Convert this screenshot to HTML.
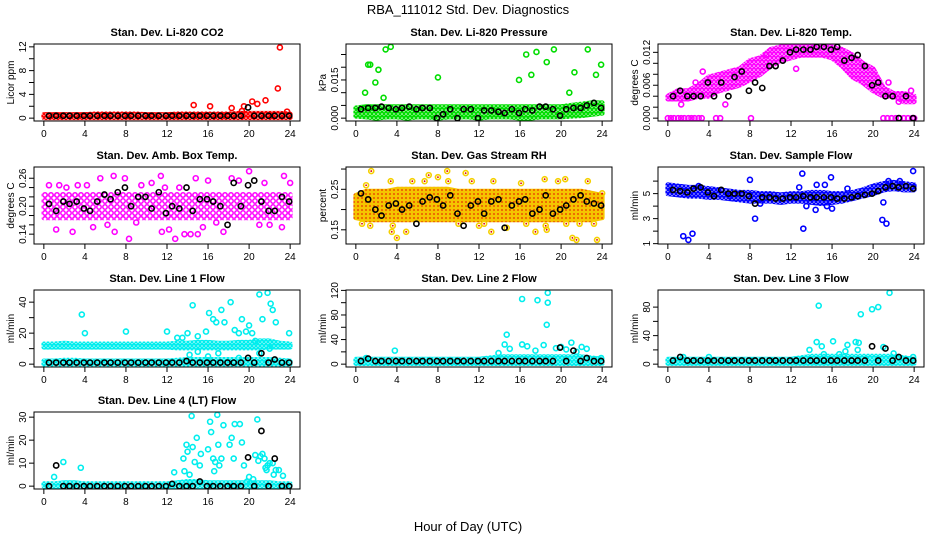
<!DOCTYPE html>
<html><head><meta charset="utf-8"><style>
html,body{margin:0;padding:0;background:#fff;}
svg{display:block;font-family:"Liberation Sans",sans-serif;}
</style></head><body>
<svg id="chart" width="936" height="540" viewBox="0 0 936 540" xmlns="http://www.w3.org/2000/svg">
<rect x="0" y="0" width="936" height="540" fill="#fff"/>
<defs id="defs"></defs>
<text x="468" y="14" font-size="13" text-anchor="middle">RBA_111012  Std. Dev. Diagnostics</text>
<text x="468" y="531" font-size="13" text-anchor="middle">Hour of Day (UTC)</text>
<g id="plots"></g>
</svg>
<script>
// shared time categories
const bandHours = [0,1,2,3,4,5,6,7,8,9,10,11,12,13,14,15,16,17,18,19,20,21,22,23,24];
const blackHours = [0.5,1.2,1.9,2.5,3.2,3.9,4.5,5.2,5.9,6.5,7.2,7.9,8.5,9.2,9.9,10.5,11.2,11.9,12.5,13.2,13.9,14.5,15.2,15.9,16.5,17.2,17.9,18.5,19.2,19.9,20.5,21.2,21.9,22.5,23.2,23.9];
const xTicks = [0,4,8,12,16,20,24];

// P1 CO2
const co2BandLo = [0.1,0.1,0.1,0.1,0.1,0.1,0.1,0.1,0.1,0.1,0.1,0.1,0.1,0.1,0.1,0.1,0.1,0.1,0.1,0.1,0.1,0.1,0.1,0.1,0.1];
const co2BandHi = [0.6,0.6,0.6,0.6,0.6,0.7,0.7,0.7,0.7,0.7,0.6,0.6,0.6,0.7,0.7,0.7,0.7,0.7,0.7,0.8,0.8,0.8,0.8,0.8,0.7];
const co2X = [14.6,16.2,18.3,19.5,19.3,20.3,20.8,21.6,22.8,23.0,23.7];
const co2Y = [2.2,2.0,1.7,2.0,1.2,2.8,2.4,3.0,5.0,11.9,1.1];
const co2Black = [0.4,0.4,0.4,0.4,0.4,0.4,0.4,0.4,0.4,0.4,0.4,0.4,0.4,0.4,0.4,0.4,0.4,0.4,0.4,0.4,0.4,0.4,0.4,0.4,0.4,0.4,0.4,0.4,0.4,1.8,0.4,0.4,0.4,0.4,0.4,0.4];
// P2 pressure
const presBandLo = [0.0008,0.0005,0.0,0.0005,0.0005,0.0,0.0005,0.0005,0.0,0.0005,0.0005,0.0005,0.0,0.0005,0.0005,0.0005,0.0,0.0,0.0005,0.0005,0.0005,0.0008,0.001,0.0015,0.002];
const presBandHi = [0.004,0.0045,0.0045,0.0045,0.0045,0.0045,0.0045,0.0045,0.0045,0.0045,0.0045,0.0045,0.0045,0.0045,0.0045,0.0045,0.0045,0.0045,0.0045,0.0045,0.0045,0.005,0.0055,0.006,0.006];
const presX = [0.8,0.9,1.2,1.4,1.9,2.2,2.7,2.9,3.4,8.0,15.9,16.6,17.1,17.6,18.6,19.3,20.8,21.3,22.6,23.4,23.9];
const presY = [0.004,0.010,0.021,0.021,0.014,0.019,0.008,0.027,0.028,0.016,0.015,0.025,0.017,0.026,0.022,0.027,0.010,0.018,0.027,0.017,0.021];
const presBlack = [0.0035,0.004,0.004,0.0045,0.004,0.0035,0.004,0.0045,0.0035,0.004,0.004,0.0,0.0015,0.0035,0.0,0.0035,0.0035,0.0,0.003,0.003,0.0025,0.002,0.0035,0.002,0.0035,0.003,0.0045,0.0045,0.0035,0.001,0.0035,0.004,0.004,0.005,0.006,0.004];
// P3 temp
const tempBandLo = [0.0035,0.0035,0.0035,0.004,0.004,0.005,0.0055,0.006,0.007,0.008,0.0095,0.0105,0.011,0.0115,0.0115,0.0115,0.011,0.0095,0.0075,0.0065,0.005,0.004,0.004,0.003,0.003];
const tempBandHi = [0.004,0.005,0.005,0.006,0.0075,0.008,0.0085,0.009,0.0105,0.011,0.0125,0.013,0.013,0.013,0.013,0.013,0.013,0.0125,0.0115,0.01,0.009,0.0055,0.0045,0.0045,0.004];
const tempX = [0,0.3,0.6,1,1.3,1.6,2,2.3,2.6,3,3.3,4.7,5.1,8.1,21,21.4,21.8,22.2,22.6,23,23.4,23.8,24,3.4,2.7,1.3,5.6,9.6,12.5,22.5,23.7,21.5];
const tempY = [0,0,0,0,0,0,0,0,0,0,0,0,0,0,0,0,0,0,0,0,0,0,0,0.0085,0.0065,0.0025,0.0025,0.0115,0.009,0.003,0.005,0.0065];
const tempBlack = [0.004,0.005,0.004,0.004,0.004,0.0065,0.004,0.0065,0.004,0.0075,0.0085,0.005,0.0065,0.0055,0.0095,0.0095,0.0105,0.012,0.0125,0.0125,0.0125,0.013,0.013,0.0125,0.013,0.0105,0.011,0.0115,0.0095,0.006,0.0065,0.004,0.004,0.0,0.004,0.0];
// P4 amb box temp
const ambBandLo = [0.175,0.175,0.175,0.175,0.175,0.175,0.175,0.175,0.175,0.175,0.175,0.175,0.175,0.175,0.175,0.175,0.175,0.175,0.175,0.175,0.175,0.175,0.175,0.175,0.175];
const ambBandHi = [0.225,0.225,0.225,0.225,0.225,0.225,0.225,0.225,0.225,0.225,0.225,0.225,0.225,0.225,0.225,0.225,0.225,0.225,0.225,0.225,0.225,0.225,0.225,0.225,0.225];
const ambX = [0.5,1.5,2.8,3.3,4.2,5.5,6.8,6.9,7.9,8.3,9.5,11.4,11.8,11.5,12.2,12.8,13.7,14.3,15,15.5,16.8,17.5,18.3,20.0,21,22,23.2,23.4,24,1.2,9,4.8,10.5,14.8,16,19,21.5,2.2,6.2,13.2];
const ambY = [0.245,0.245,0.145,0.245,0.245,0.26,0.265,0.145,0.26,0.13,0.245,0.265,0.24,0.145,0.15,0.13,0.14,0.14,0.14,0.155,0.165,0.145,0.26,0.275,0.16,0.16,0.155,0.265,0.25,0.15,0.165,0.155,0.25,0.26,0.255,0.255,0.25,0.24,0.16,0.24];
const ambBlack = [0.205,0.19,0.21,0.205,0.21,0.195,0.19,0.21,0.225,0.215,0.23,0.24,0.20,0.22,0.22,0.195,0.23,0.185,0.20,0.195,0.24,0.19,0.215,0.215,0.21,0.20,0.16,0.25,0.20,0.245,0.255,0.21,0.19,0.19,0.22,0.21];
// P5 gas stream RH
const rhBandLo = [0.18,0.175,0.175,0.175,0.175,0.175,0.175,0.175,0.175,0.175,0.175,0.175,0.175,0.175,0.175,0.175,0.175,0.175,0.175,0.175,0.175,0.175,0.175,0.175,0.18];
const rhBandHi = [0.235,0.245,0.245,0.245,0.25,0.25,0.25,0.25,0.25,0.25,0.245,0.245,0.245,0.245,0.245,0.245,0.245,0.245,0.245,0.245,0.245,0.245,0.245,0.24,0.235];
const rhX = [0.6,1,1.4,1.5,3.4,3.5,3.6,4,4.9,5.5,6.7,7.1,8,8.9,9,10,10.7,11.3,12,12.5,13.2,13.4,14.7,16.1,16.6,17.5,18.4,18.5,18.6,19.7,20.4,20.5,21.1,21.5,21.8,22.6,23.2,23.5,24];
const rhY = [0.165,0.26,0.16,0.295,0.27,0.145,0.16,0.13,0.145,0.27,0.27,0.285,0.28,0.295,0.27,0.165,0.29,0.27,0.16,0.165,0.145,0.27,0.155,0.265,0.165,0.145,0.275,0.16,0.15,0.27,0.275,0.165,0.13,0.125,0.165,0.27,0.165,0.125,0.24];
const rhBlack = [0.24,0.225,0.20,0.185,0.21,0.215,0.20,0.21,0.165,0.22,0.23,0.225,0.21,0.235,0.19,0.16,0.21,0.22,0.19,0.22,0.225,0.155,0.21,0.22,0.225,0.19,0.20,0.235,0.19,0.20,0.21,0.225,0.235,0.22,0.215,0.21];
// P6 sample flow
const sfBandLo = [5.0,4.9,4.8,4.8,4.7,4.7,4.6,4.5,4.4,4.4,4.4,4.3,4.4,4.4,4.3,4.2,4.3,4.4,4.6,4.8,5.0,5.3,5.4,5.3,5.3];
const sfBandHi = [5.7,5.6,5.5,5.5,5.4,5.3,5.2,5.1,5.1,5.0,5.0,4.9,5.0,5.0,5.1,5.1,5.0,5.0,5.1,5.3,5.6,5.8,5.9,5.8,5.7];
const sfX = [1.5,2,2.4,8,8.5,13.1,13.2,12.8,14.5,15.3,15.9,16,14.4,15.5,20.9,21.3,21,23.9,22.6,21.5,3,13.5,17.5,9,6];
const sfY = [1.6,1.3,1.8,6.1,3.0,6.6,2.2,5.5,5.7,5.7,6.3,3.8,3.7,4.0,2.9,2.6,4.3,6.8,6.0,6.0,5.6,4.0,5.4,4.2,4.8];
const sfBlack = [5.3,5.2,5.1,5.4,5.5,5.1,4.8,5.3,5.0,5.0,5.0,4.8,4.2,4.7,4.7,4.6,4.6,4.7,4.7,4.8,4.7,4.7,4.7,4.7,4.6,4.6,4.7,4.8,4.9,5.0,5.2,5.5,5.6,5.5,5.6,5.4];
// P7 line 1 flow
const l1BandLo = [11,11,11,11,11,11,11,11,11,11,11,11,11,10.5,10.5,10.5,10.5,10.5,10.5,10.5,10.5,10.5,11,11,11];
const l1BandHi = [13,13,13.5,13,13,13,13,13,13,13,13,13,13,13.5,13.5,14,14,13.5,13.5,14,14,15,15,13.5,13];
const l1LowLo = [0,0,0,0,0,0,0,0,0,0,0,0,0,0,0,0,0,0,0,0,0,0,0,0,0];
const l1LowHi = [2,2,2.5,2.5,2,2,2,2,2,2,2,2,2,2.5,3,3,3,3,3,3,3,3,3,2.5,2];
const l1X = [3.7,4,8,12,13,13.5,14,14.5,15,15.8,16.1,16.5,16.8,17.3,17.6,18.2,18.6,19.0,19.3,19.7,20,20.3,20.6,21,21.3,21.8,22.1,22.3,22.6,23.9,14.2,15,16,17,19,21,22];
const l1Y = [32,20,21,21,17,17,20,38,18,21,33,29,27,35,27,40,22,20,29,21,25,20,15,45,29,46,39,35,27,20,6,8,5,7,4,7,10];
const l1Black = [1,1,1,1,1,1,1,1,1,1,1,1,1,1,1,1,1,1,1,1,2,1,1,1,1,1,1,1,1,4,1,7,1,3,1,1];
// P8 line 2 flow
const l2BandLo = [1,1,1,1,1,1,1,1,1,1,1,1,1,1,1,1,1,1,1,1,1,1,1,1,1];
const l2BandHi = [8,8,8,8,8,8,8,8,8,8,8,8,8,10,12,12,12,12,12,12,12,12,12,10,8];
const l2X = [3.8,14.7,16.2,16.2,17.7,18.6,18.7,18.7,18.3,14.5,16.7,21,20,22,22.5,13.9,15,17.5,19.5,20.5,21.5,23.9,1];
const l2Y = [22,48,106,32,104,64,116,100,31,32,29,35,28,28,25,18,25,22,26,24,20,10,10];
const l2Black = [5,9,5,5,5,5,5,5,5,5,5,5,5,5,5,5,5,5,5,5,5,5,5,5,5,5,5,5,5,27,5,22,5,10,5,5];
// P9 line 3 flow
const l3BandLo = [1,1,1,1,1,1,1,1,1,1,1,1,1,1,1,1,1,1,1,1,1,1,1,1,1];
const l3BandHi = [7,7,7,7,7,7,7,7,7,7,7,7,7,9,11,11,11,11,11,11,11,11,11,9,7];
const l3X = [14.7,18.8,19.9,20.5,21.6,14.5,16.1,17.5,18.3,18.6,13.8,15,17.3,18.5,21,22,23.9,1.5,4,15.2,16.7];
const l3Y = [82,70,77,80,100,31,32,27,31,30,20,25,18,20,24,15,10,10,10,14,14];
const l3Black = [5,10,5,5,5,5,5,5,5,5,5,5,5,5,5,5,5,5,5,5,5,5,5,5,5,5,5,5,5,25,5,22,5,10,5,5];
// P10 line 4 flow
const l4BandLo = [0,0,0,0,0,0,0,0,0,0,0,0,0,0,0,0,0,0,0,0,0,0,0,0,0];
const l4BandHi = [1,1,1.5,1.5,1,1,1,1,1,1,1,1,1,1.5,2,2,1.5,1.5,1.5,1.5,1.5,1.5,1.5,1,1];
const l4X = [1.0,1.9,3.6,12.7,13.6,13.7,13.9,14,14.2,14.4,14.5,14.7,14.9,15.2,15.3,16.0,16.2,16.3,16.5,16.6,16.7,16.9,17,17.1,17.3,17.5,18.1,18.3,18.5,18.6,19.1,19.3,19.5,19.8,20,20.4,20.6,20.8,20.9,21.1,21.3,21.5,21.6,21.8,22,22.3,22.4,22.6,22.9,23.3,21.7];
const l4Y = [4,10.5,8,6,12,6.5,18,15,5,30.5,17,10.5,21,9,14,16,28,23.5,12,6.5,10.5,31,18,9,12,26.5,18,21,12,27,27,19,9,2,4,3,13.5,29,11,13,14,12,8,9,10,10,5,7,7,4.5,7];
const l4Black = [0,9,0,0,0,0,0,0,0,0,0,0,0,0,0,0,0,0,1,0,0,0,2,0,0,0,0,0,0,12.5,0,24,0,12,0,0];

const colLeft = [34, 346, 658];
const rowTop = [44, 167, 290, 412];
const PW = 266, PH = 77;

const panels = [
 {name:'co2',title:'Stan. Dev. Li-820 CO2',ylab:'Licor ppm',c:0,r:0,dom:[0,12],ticks:[0,2,4,6,8,10,12],labels:[0,4,8,12],fmt:0,color:'#ff0000',bands:[[co2BandLo,co2BandHi]],sx:co2X,sy:co2Y,black:co2Black},
 {name:'pressure',title:'Stan. Dev. Li-820 Pressure',ylab:'kPa',c:1,r:0,dom:[0,0.028],ticks:[0,0.005,0.01,0.015,0.02,0.025],labels:[0,0.015],fmt:3,color:'#00dd00',bands:[[presBandLo,presBandHi]],sx:presX,sy:presY,black:presBlack},
 {name:'temp',title:'Stan. Dev. Li-820 Temp.',ylab:'degrees C',c:2,r:0,dom:[0,0.013],ticks:[0,0.002,0.004,0.006,0.008,0.01,0.012],labels:[0,0.006,0.012],fmt:3,color:'#ff00ff',bands:[[tempBandLo,tempBandHi]],sx:tempX,sy:tempY,black:tempBlack},
 {name:'amb-box-temp',title:'Stan. Dev. Amb. Box Temp.',ylab:'degrees C',c:0,r:1,dom:[0.125,0.278],ticks:[0.14,0.16,0.18,0.2,0.22,0.24,0.26],labels:[0.14,0.2,0.26],fmt:2,color:'#ff00ff',sparse:true,bands:[[ambBandLo,ambBandHi]],sx:ambX,sy:ambY,black:ambBlack},
 {name:'gas-rh',title:'Stan. Dev. Gas Stream RH',ylab:'percent',c:1,r:1,dom:[0.122,0.298],ticks:[0.15,0.2,0.25,0.3],labels:[0.15,0.25],fmt:2,color:'#f5c000',rh:true,bands:[[rhBandLo,rhBandHi]],sx:rhX,sy:rhY,black:rhBlack},
 {name:'sample-flow',title:'Stan. Dev. Sample Flow',ylab:'ml/min',c:2,r:1,dom:[1.2,6.9],ticks:[1,2,3,4,5,6],labels:[1,3,5],fmt:0,color:'#0000ff',bands:[[sfBandLo,sfBandHi]],sx:sfX,sy:sfY,black:sfBlack},
 {name:'line1-flow',title:'Stan. Dev. Line 1 Flow',ylab:'ml/min',c:0,r:2,dom:[0,46],ticks:[0,10,20,30,40],labels:[0,20,40],fmt:0,color:'#00eeee',bands:[[l1BandLo,l1BandHi],[l1LowLo,l1LowHi]],sx:l1X,sy:l1Y,black:l1Black},
 {name:'line2-flow',title:'Stan. Dev. Line 2 Flow',ylab:'ml/min',c:1,r:2,dom:[0,116],ticks:[0,20,40,60,80,100,120],labels:[0,40,80,120],fmt:0,color:'#00eeee',bands:[[l2BandLo,l2BandHi]],sx:l2X,sy:l2Y,black:l2Black},
 {name:'line3-flow',title:'Stan. Dev. Line 3 Flow',ylab:'ml/min',c:2,r:2,dom:[0,100],ticks:[0,20,40,60,80],labels:[0,40,80],fmt:0,color:'#00eeee',bands:[[l3BandLo,l3BandHi]],sx:l3X,sy:l3Y,black:l3Black},
 {name:'line4-flow',title:'Stan. Dev. Line 4 (LT) Flow',ylab:'ml/min',c:0,r:3,dom:[0,31],ticks:[0,10,20,30],labels:[0,10,20,30],fmt:0,color:'#00eeee',bands:[[l4BandLo,l4BandHi]],sx:l4X,sy:l4Y,black:l4Black}
];

const NS = 'http://www.w3.org/2000/svg';
const root = document.getElementById('plots');
const defs = document.getElementById('defs');
function mk(tag, attrs, parent) {
  const e = document.createElementNS(NS, tag);
  for (const k in attrs) e.setAttribute(k, attrs[k]);
  parent.appendChild(e);
  return e;
}

panels.forEach(p => {
  const L = colLeft[p.c], T = rowTop[p.r];
  const span = p.dom[1] - p.dom[0];
  const y0 = p.dom[0] - 0.04 * span, ys = span * 1.08;
  const xpx = h => L + (h + 0.96) / 25.92 * PW;
  const ypx = v => T + PH - (v - y0) / ys * PH;
  const g = mk('g', {}, root);
  
  

  // texture pattern of small circles
  const ps = p.sparse ? 6 : 4;
  const pat = mk('pattern', {id: 'pat-' + p.name, width: ps, height: ps, patternUnits: 'userSpaceOnUse'}, defs);
  if (p.rh) {
    mk('rect', {x: 0, y: 0, width: ps, height: ps, fill: '#f5c400'}, pat);
    mk('circle', {cx: 2, cy: 2, r: 0.9, fill: '#e83000'}, pat);
  } else {
    mk('circle', {cx: ps / 2, cy: ps / 2, r: p.sparse ? 2.2 : 1.5, fill: 'none', stroke: p.color, 'stroke-width': p.sparse ? 1.5 : 1.4}, pat);
    if (!p.sparse) mk('rect', {x: 0, y: 0, width: ps, height: 0.6, fill: p.color}, pat);
  }

  const title = mk('text', {x: L + PW / 2, y: T - 8, 'font-size': 11, 'font-weight': 'bold', 'text-anchor': 'middle'}, g);
  
  
  title.textContent = p.title;

  const clip = mk('clipPath', {id: 'clip-' + p.name}, g);
  mk('rect', {x: L, y: T, width: PW, height: PH}, clip);
  const marks = mk('g', {'clip-path': 'url(#clip-' + p.name + ')'}, g);

  p.bands.forEach(b => {
    const lo = b[0], hi = b[1];
    let pts = [];
    bandHours.forEach((h, i) => pts.push(xpx(h).toFixed(1) + ',' + ypx(hi[i]).toFixed(1)));
    for (let i = bandHours.length - 1; i >= 0; i--) pts.push(xpx(bandHours[i]).toFixed(1) + ',' + ypx(lo[i]).toFixed(1));
    const poly = mk('polygon', {points: pts.join(' '), fill: 'url(#pat-' + p.name + ')', stroke: 'url(#pat-' + p.name + ')', 'stroke-width': 5, 'stroke-linejoin': 'round'}, marks);
    
    
  });

  p.sx.forEach((h, i) => {
    const c = mk('circle', {cx: xpx(h), cy: ypx(p.sy[i]), r: 2.5, fill: 'none', stroke: p.rh ? '#f5d000' : p.color, 'stroke-width': 1.6}, marks);
    
    
    if (p.rh) mk('circle', {cx: xpx(h), cy: ypx(p.sy[i]), r: 0.9, fill: '#e00000'}, marks);
  });

  blackHours.forEach((h, i) => {
    const c = mk('circle', {cx: xpx(h), cy: ypx(p.black[i]), r: 2.6, fill: 'none', stroke: '#000', 'stroke-width': 1.6}, marks);
    
    
  });

  const box = mk('rect', {x: L, y: T, width: PW, height: PH, fill: 'none', stroke: '#000', 'stroke-width': 1}, g);
  
  

  const xa = mk('g', {}, g);
  
  
  xTicks.forEach(t => {
    const x = xpx(t);
    mk('line', {x1: x, y1: T + PH, x2: x, y2: T + PH + 5, stroke: '#000'}, xa);
    const tx = mk('text', {x: x, y: T + PH + 16, 'font-size': 10, 'text-anchor': 'middle'}, xa);
    tx.textContent = t;
  });
  const ya = mk('g', {}, g);
  
  
  p.ticks.forEach(t => {
    const y = ypx(t);
    if (y < T - 1 || y > T + PH + 1) return;
    mk('line', {x1: L, y1: y, x2: L - 5, y2: y, stroke: '#000'}, ya);
  });
  p.labels.forEach(t => {
    const y = ypx(t);
    const tx = mk('text', {x: 0, y: 0, 'font-size': 10, 'text-anchor': 'middle', transform: 'translate(' + (L - 8) + ',' + y + ') rotate(-90)'}, ya);
    tx.textContent = p.fmt ? t.toFixed(p.fmt) : String(t);
  });
  const yl = mk('text', {x: 0, y: 0, 'font-size': 10, 'text-anchor': 'middle', transform: 'translate(' + (L - 20) + ',' + (T + PH / 2) + ') rotate(-90)'}, g);
  
  
  yl.textContent = p.ylab;
});
</script>
</body></html>
